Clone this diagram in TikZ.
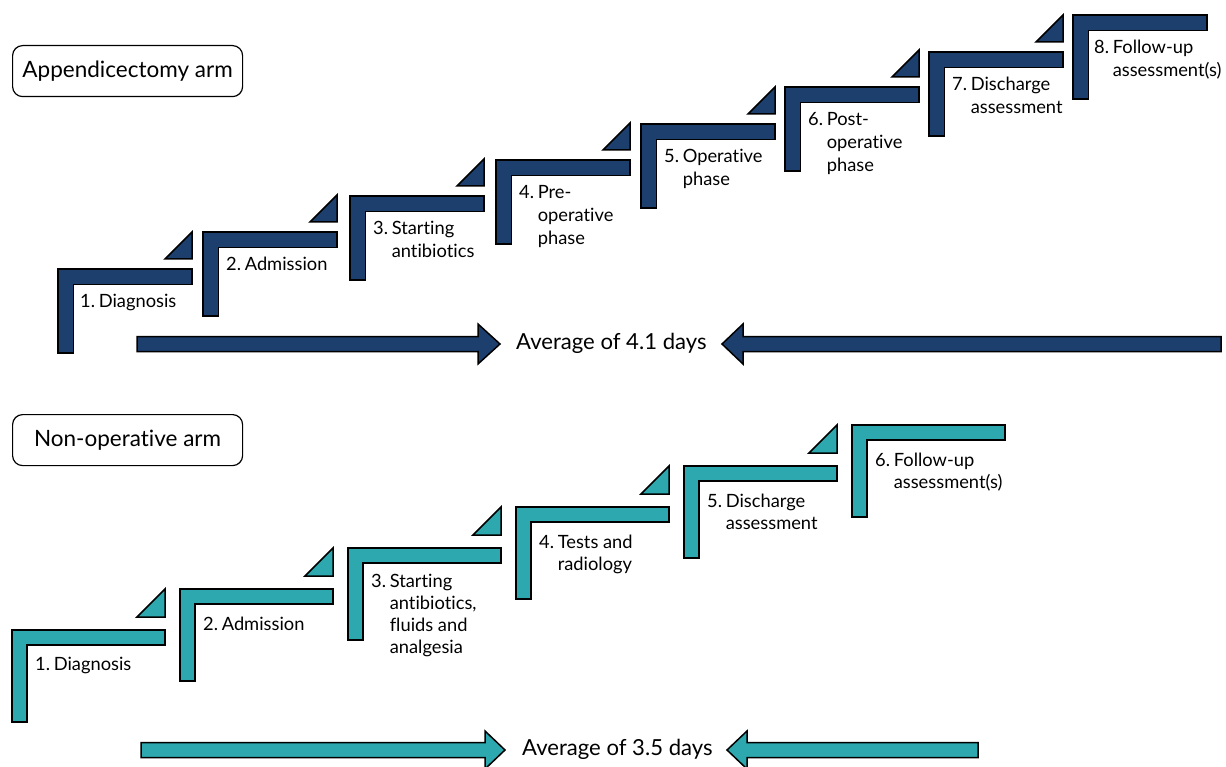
\documentclass[tikz,border=0pt]{standalone}
\usepackage{fontspec}
\setmainfont{Lato}[Ligatures=CommonOff]
\definecolor{navy}{HTML}{1D3F6E}
\definecolor{tealc}{HTML}{2DA8AE}
\newcommand{\steplabel}[2]{\begin{tabular}[t]{@{}l@{\hspace{0.2em}}l@{}}#1 & #2\end{tabular}}
\tikzset{
  stepshape/.style={draw=black, line width=1.5pt, line join=miter},
  lbl/.style={anchor=base west, inner sep=0pt, font=\fontsize{18.3}{23}\selectfont},
  lblb/.style={anchor=base west, inner sep=0pt, font=\fontsize{18.3}{22}\selectfont},
  avg/.style={anchor=west, inner sep=0pt, font=\fontsize{22.1}{26}\selectfont},
  armbox/.style={draw=black, line width=1.2pt, rounded corners=10pt, minimum width=230pt, minimum height=51pt, font=\fontsize{22.5}{26}\selectfont, anchor=north west},
  blockarrow/.style={draw=black, line width=1.5pt, line join=miter}
}
\begin{document}
\begin{tikzpicture}[x=1pt,y=-1pt]
\useasboundingbox (0,0) rectangle (1226,767);
% ---------- Appendicectomy arm ----------
\node[armbox] (armA) at (12,45) {Appendicectomy arm};
\def\wA{134}\def\hA{84}\def\tA{15.5}
\foreach \x/\y/\tri in {58/269/1,203/232/1,350/196/1,496/160/1,641/124/1,785/87/1,929/52/1,1073/15/0}{
  \fill[navy,stepshape] (\x,\y) -- ++(\wA,0) -- ++(0,\tA) -- ++(-\wA+\tA,0) -- ++(0,\hA-\tA) -- ++(-\tA,0) -- cycle;
  \ifnum\tri=1
    \fill[navy,stepshape] (\x+\wA,\y-10) -- ++(0,-27) -- ++(-27,27) -- cycle;
  \fi
}
\node[lbl] (a1) at (80,308) {\steplabel{1.}{Diagnosis}};
\node[lbl] (a2) at (226,271) {\steplabel{2.}{Admission}};
\node[lbl] (a3) at (373,235) {\steplabel{3.}{Starting\\ & antibiotics}};
\node[lbl] (a4) at (519,199) {\steplabel{4.}{Pre-\\ & operative\\ & phase}};
\node[lbl] (a5) at (664,163) {\steplabel{5.}{Operative\\ & phase}};
\node[lbl] (a6) at (808,126) {\steplabel{6.}{Post-\\ & operative\\ & phase}};
\node[lbl] (a7) at (952,91) {\steplabel{7.}{Discharge\\ & assessment}};
\node[lbl] (a8) at (1094,54) {\steplabel{8.}{Follow-up\\ & assessment(s)}};
% arrows
\fill[navy,blockarrow] (137,336.5) -- (478,336.5) -- (478,324) -- (500,344) -- (478,364) -- (478,351.5) -- (137,351.5) -- cycle;
\node[avg] (avgA) at (516,343) {Average of 4.1 days};
\fill[navy,blockarrow] (1221,336.5) -- (743,336.5) -- (743,324) -- (722,344) -- (743,364) -- (743,351.5) -- (1221,351.5) -- cycle;
% ---------- Non-operative arm ----------
\node[armbox] (armB) at (12,414) {Non-operative arm};
\def\wB{153}\def\hB{92}\def\tB{15}
\foreach \x/\y/\tri in {12/630/1,180/589/1,348/548/1,516/507/1,684/466/1,852/425/0}{
  \fill[tealc,stepshape] (\x,\y) -- ++(\wB,0) -- ++(0,\tB) -- ++(-\wB+\tB,0) -- ++(0,\hB-\tB) -- ++(-\tB,0) -- cycle;
  \ifnum\tri=1
    \fill[tealc,stepshape] (\x+\wB,\y-13) -- ++(0,-28) -- ++(-28,28) -- cycle;
  \fi
}
\node[lblb] (b1) at (35,670) {\steplabel{1.}{Diagnosis}};
\node[lblb] (b2) at (203,630) {\steplabel{2.}{Admission}};
\node[lblb] (b3) at (371,587) {\steplabel{3.}{Starting\\ & antibiotics,\\ & fluids and\\ & analgesia}};
\node[lblb] (b4) at (539,548) {\steplabel{4.}{Tests and\\ & radiology}};
\node[lblb] (b5) at (707,507) {\steplabel{5.}{Discharge\\ & assessment}};
\node[lblb] (b6) at (875,466) {\steplabel{6.}{Follow-up\\ & assessment(s)}};
% arrows
\fill[tealc,blockarrow] (141,742.5) -- (485,742.5) -- (485,731) -- (505,750) -- (485,769) -- (485,757.5) -- (141,757.5) -- cycle;
\node[avg] (avgB) at (522,749) {Average of 3.5 days};
\fill[tealc,blockarrow] (978,742.5) -- (747,742.5) -- (747,731) -- (727,750) -- (747,769) -- (747,757.5) -- (978,757.5) -- cycle;
\end{tikzpicture}
\end{document}
